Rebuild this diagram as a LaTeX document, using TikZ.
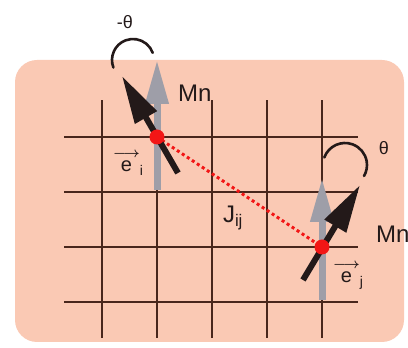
\documentclass[tikz,border=0pt]{standalone}
\usepackage{amsmath}
\usepackage{fontspec}
\setmainfont{Liberation Sans}
\usepackage{xcolor}
\usetikzlibrary{arrows.meta}

\definecolor{peach}{RGB}{250,201,180}
\definecolor{gridbrown}{RGB}{72,38,28}
\definecolor{spingray}{RGB}{158,158,168}
\definecolor{sitered}{RGB}{242,22,22}
\definecolor{inkdark}{RGB}{35,25,25}

\newcommand{\unitvec}[2]{$\overset{\boldsymbol{\longrightarrow}}{\text{#1}}_{\text{#2}}$}

\begin{document}
\begin{tikzpicture}[x=1pt,y=1pt,
    site/.style={circle, fill=sitered, minimum size=15pt, inner sep=0pt},
    spin/.style={inkdark, line width=6pt, -{Triangle[length=48pt,width=24pt]}},
    oldspin/.style={spingray, line width=7pt, -{Triangle[length=44pt,width=22pt]}},
    rot/.style={inkdark, line width=2.6pt, line cap=round},
    lbl/.style={text=inkdark, font=\fontsize{24}{28}\selectfont, inner sep=0pt},
    vlbl/.style={text=inkdark, font=\fontsize{20}{24}\selectfont, inner sep=0pt, anchor=base west},
    ang/.style={text=inkdark, font=\fontsize{18}{22}\selectfont, inner sep=0pt}]
    \useasboundingbox (0,0) rectangle (408,348);

    % fond
    \fill[peach, rounded corners=22pt] (15,6) rectangle (404,288);

    % reseau
    \foreach \y in {211,156,101,46}{
        \draw[gridbrown, line width=1.8pt] (64,\y) -- (358,\y);
    }
    \foreach \x in {102,157,212,267,322}{
        \draw[gridbrown, line width=1.8pt] (\x,10) -- (\x,248);
    }

    % sites i et j
    \coordinate (si) at (157,211);
    \coordinate (sj) at (322,101);

    % couplage
    \draw[sitered, line width=3pt, dash pattern=on 3pt off 3pt] (si) -- (sj);

    % spins avant rotation (gris)
    \coordinate (gi0) at (157,158);
    \coordinate (gi1) at (157,288);
    \coordinate (gj0) at (322,48);
    \coordinate (gj1) at (322,170);
    \draw[oldspin] (gi0) -- (gi1);
    \draw[oldspin] (gj0) -- (gj1);

    % spins tournes (noirs)
    \coordinate (bi0) at (178,175);
    \coordinate (bi1) at (122,272);
    \coordinate (bj0) at (303,68);
    \coordinate (bj1) at (360,163);
    \draw[spin] (bi0) -- (bi1);
    \draw[spin] (bj0) -- (bj1);

    \node[site] (ni) at (si) {};
    \node[site] (nj) at (sj) {};

    % rotations
    \coordinate (ci) at (133,288);
    \coordinate (cj) at (345,183);
    \draw[rot] ([shift={(201:21)}]ci) arc[start angle=201, end angle=20, radius=21pt];
    \draw[rot] ([shift={(160:22)}]cj) arc[start angle=160, end angle=-30, radius=22pt];

    % textes
    \node[ang] (thi) at (125,326) {-θ};
    \node[ang] (thj) at (384,200) {θ};
    \node[lbl, anchor=west] (mni) at (178,255) {Mn};
    \node[lbl, anchor=west] (mnj) at (376,114) {Mn};
    \node[lbl] (jij) at (233,130) {J$_{\text{ij}}$};
    \node[vlbl] (ei) at (113,176) {\unitvec{e}{i}};
    \node[vlbl] (ej) at (333,65) {\unitvec{e}{j}};
\end{tikzpicture}
\end{document}
